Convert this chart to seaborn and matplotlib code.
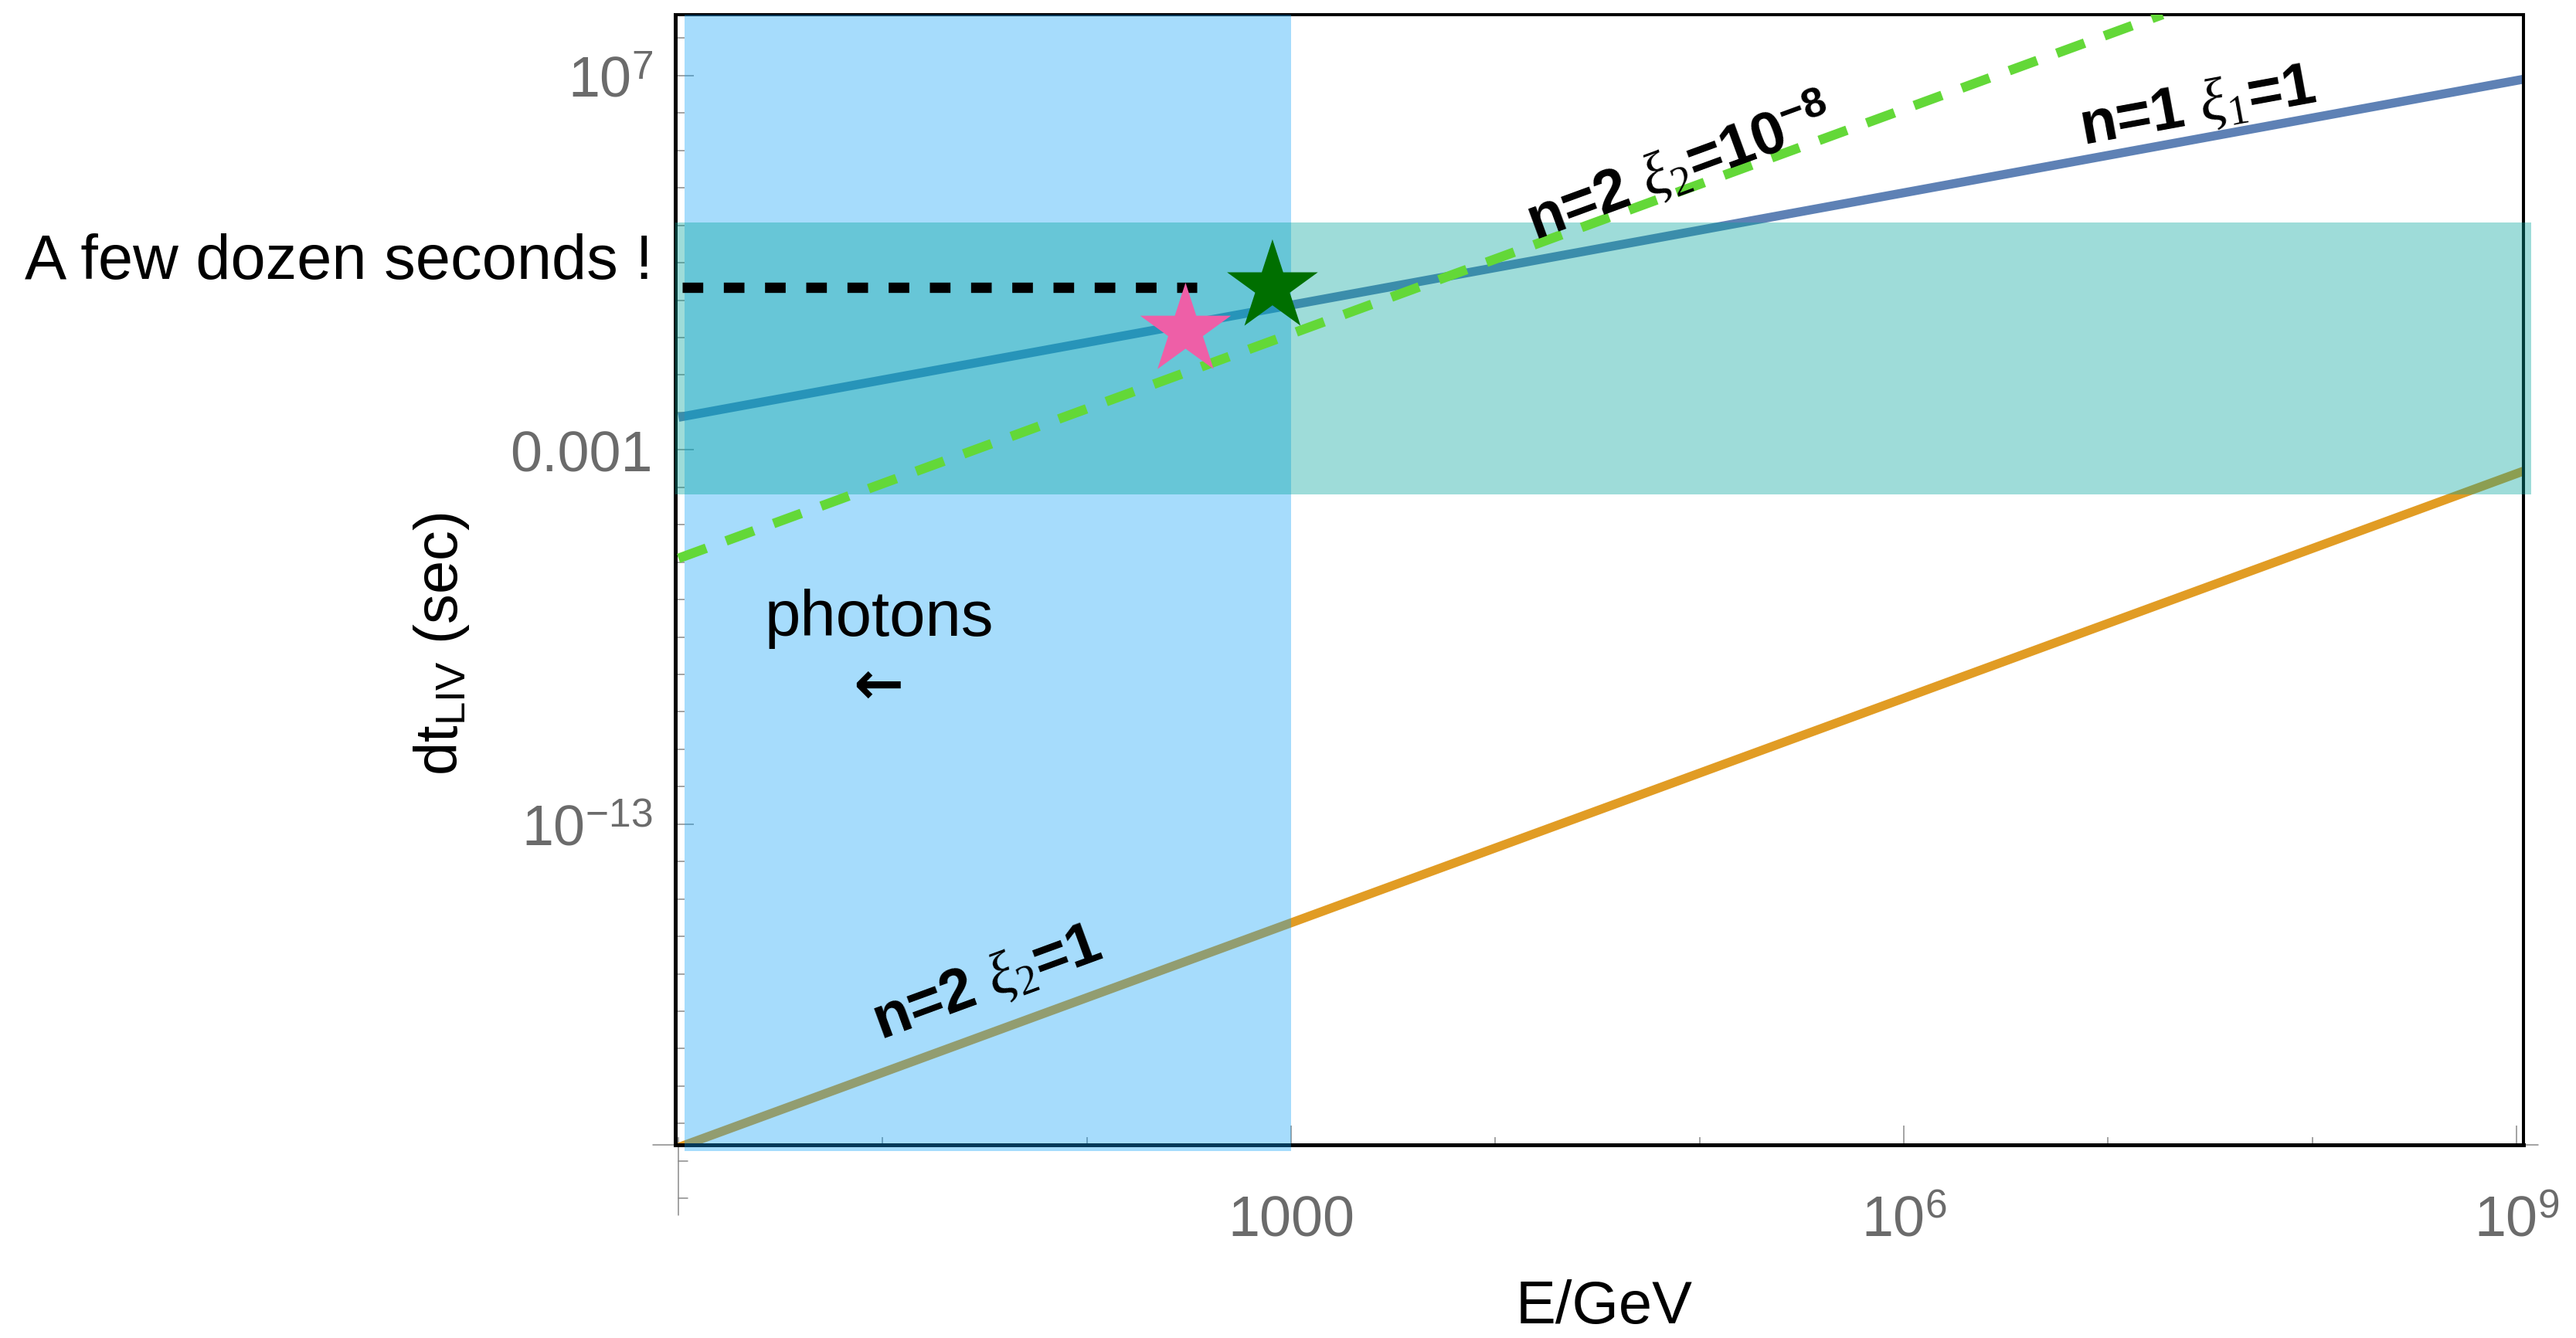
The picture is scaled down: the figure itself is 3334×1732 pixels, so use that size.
import numpy as np
import matplotlib
matplotlib.use('Agg')
import matplotlib.pyplot as plt
from matplotlib.ticker import LogLocator, NullFormatter
import seaborn as sns

# axis ranges
energy_lim = [10**-0.015, 10**9.034]
dt_lim = [10**-21.57, 10**8.63]

# curves: end points of each straight line in log-log
n1_E = [1.0, 1.08e9]
n1_dt = [7.4e-3, 8.0e6]
n2_E = [1.0, 1.08e9]
n2_dt = [2.3e-22, 2.7e-4]
n2_small_E = [1.0, 1.85e7]
n2_small_dt = [1.26e-6, 4.3e8]

# horizontal "few dozen seconds" marker
dozen_E = [1.04, 344]
dozen_dt = [22, 22]

# stars
star_E = [304, 810]
star_dt = [1.55, 22.4]
star_colors = ['#EE5FA7', '#006F00']

# shaded bands
photon_band_E = [1.07, 1000]
photon_band_dt = [10**-21.74, 10**8.63]
delay_band_E = [10**-0.015, 10**9.073]
delay_band_dt = [6.4e-5, 1.2e3]

xticks = [1e3, 1e6, 1e9]
xtick_labels = ['1000', '$10^{6}$', '$10^{9}$']
yticks = [1e-13, 1e-3, 1e7]
ytick_labels = ['$10^{-13}$', '0.001', '$10^{7}$']
# minor ticks of the y axis drawn below the frame
ext_yticks = [1e-22, 1e-23]

sns.set_style('white')
plt.rcParams['font.family'] = ['Liberation Sans', 'DejaVu Sans']
plt.rcParams['text.color'] = 'black'
plt.rcParams['mathtext.fontset'] = 'custom'
plt.rcParams['mathtext.rm'] = 'Liberation Sans'
plt.rcParams['mathtext.it'] = 'Liberation Serif:italic'
plt.rcParams['mathtext.bf'] = 'Liberation Sans:bold'
plt.rcParams['mathtext.sf'] = 'Liberation Serif'

fig = plt.figure(figsize=(33.34, 17.33), dpi=100)
ax = fig.add_axes([0.2622, 0.1443, 0.9796 - 0.2622, 0.9885 - 0.1443])
ax.set_xscale('log')
ax.set_yscale('log')
ax.set_xlim(energy_lim)
ax.set_ylim(dt_lim)

# lines under the bands
sns.lineplot(x=n1_E, y=n1_dt, ax=ax, color='#5E81B5', linewidth=8.3,
             solid_capstyle='butt', zorder=1)
sns.lineplot(x=n2_E, y=n2_dt, ax=ax, color='#E19C24', linewidth=8.3,
             solid_capstyle='butt', zorder=1)

# bands
ax.fill_betweenx(photon_band_dt, photon_band_E[0], photon_band_E[1],
                 color='#08A0F7', alpha=0.36, linewidth=0, zorder=2.6, clip_on=False)
ax.fill_between(delay_band_E, delay_band_dt[0], delay_band_dt[1],
                color='#02A39B', alpha=0.38, linewidth=0, zorder=2.7, clip_on=False)

# lines above the bands
sns.lineplot(x=n2_small_E, y=n2_small_dt, ax=ax, color='#63D838', linewidth=8.9,
             linestyle=(0, (3.1, 2.2)), zorder=3)
sns.lineplot(x=dozen_E, y=dozen_dt, ax=ax, color='black', linewidth=9.6,
             linestyle=(0, (2, 2)), zorder=3)

sns.scatterplot(x=star_E, y=star_dt, hue=['a', 'b'], palette=star_colors,
                marker='*', s=89**2, linewidth=0, legend=False, ax=ax, zorder=4,
                clip_on=False)


def screen_angle(xs, ys):
    p = ax.transData.transform(np.column_stack([xs, ys]))
    return np.degrees(np.arctan2(p[1, 1] - p[0, 1], p[1, 0] - p[0, 0]))


lab_kw = dict(ha='center', va='center', rotation_mode='anchor',
              fontsize=56, fontweight='bold', zorder=5)
ax.text(10**7.44, 10**6.17, r'n=1 $\xi_{\mathsf{1}}$=1',
        rotation=screen_angle(n1_E, n1_dt), **lab_kw)
ax.text(10**4.9, 10**4.55, r'n=2 $\xi_{\mathsf{2}}$=10$^{\mathbf{-8}}$',
        rotation=screen_angle(n2_small_E, n2_small_dt), **lab_kw)
ax.text(10**1.513, 10**-17.25, r'n=2 $\xi_{\mathsf{2}}$=1',
        rotation=screen_angle(n2_E, n2_dt), **lab_kw)

ax.text(9.6, 10**-7.95, 'photons', ha='center', va='baseline', fontsize=60, zorder=5)
ax.text(9.5, 10**-9.31, '\u2190', ha='center', va='center', fontsize=56,
        fontweight='bold', family='DejaVu Sans', zorder=5)
ax.text(10**-0.125, 10**1.58, 'A few dozen seconds !', ha='right', va='baseline',
        fontsize=58.5, clip_on=False)

# ticks
ax.set_xticks(xticks, xtick_labels)
ax.set_yticks(yticks, ytick_labels)
ax.xaxis.set_minor_locator(LogLocator(base=10, subs=[1.0], numticks=30))
ax.yaxis.set_minor_locator(LogLocator(base=10, subs=[1.0], numticks=60))
ax.xaxis.set_minor_formatter(NullFormatter())
ax.yaxis.set_minor_formatter(NullFormatter())
ax.tick_params(which='both', direction='in', color='#8a8a8a', width=1.1,
               bottom=True, left=True, top=False, right=False)
ax.tick_params(axis='y', which='major', length=17, pad=21, labelsize=53, labelcolor='#6b6b6b')
ax.tick_params(axis='y', which='minor', length=8.6)
ax.tick_params(axis='x', which='major', length=18, pad=46, labelsize=53, labelcolor='#6b6b6b')
ax.tick_params(axis='x', which='minor', length=7.2)

for side, lw in [('left', 3.6), ('bottom', 3.6), ('top', 2.9), ('right', 2.9)]:
    ax.spines[side].set_visible(True)
    ax.spines[side].set_color('black')
    ax.spines[side].set_linewidth(lw)

# thin gray axis lines sticking out of the frame
gray_kw = dict(color='#8a8a8a', linewidth=1.1, clip_on=False, zorder=0.6)
ax.plot([1, 1], [0, -0.062], transform=ax.get_xaxis_transform(), **gray_kw)
for yv in ext_yticks:
    ax.plot([1, 10**0.045], [yv, yv], **gray_kw)
ax.plot([-0.012, 0], [0, 0], transform=ax.transAxes, **gray_kw)
ax.plot([1, 1.008], [0, 0], transform=ax.transAxes, **gray_kw)

fig.text(0.1713, 0.519, r'dt$_{\mathrm{LIV}}$ (sec)', rotation=90,
         ha='center', va='center', fontsize=56)
fig.text(0.6227, 0.0118, 'E/GeV', ha='center', va='baseline', fontsize=56)

fig.savefig('out.png', dpi=100)
